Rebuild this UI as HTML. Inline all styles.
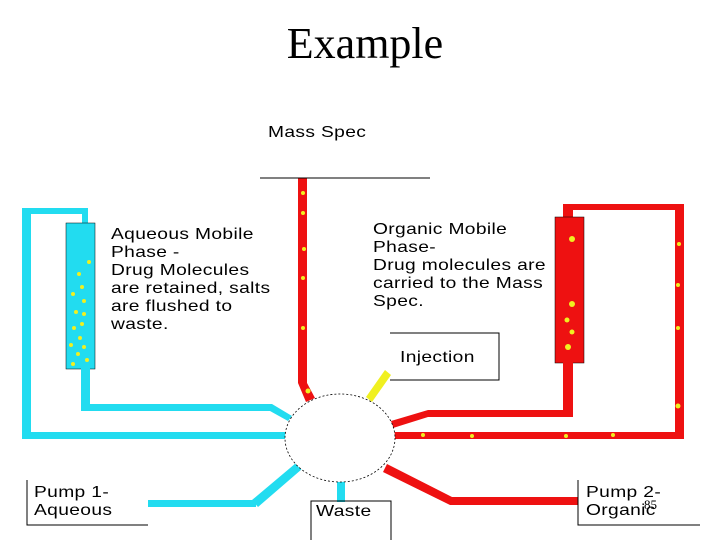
<!DOCTYPE html>
<html><head><style>
body{margin:0;width:720px;height:540px;background:#fff;overflow:hidden;position:relative;font-family:"Liberation Sans",sans-serif}
.t{position:absolute;font-size:16px;line-height:18px;color:#000;white-space:nowrap;transform:scaleX(1.2);transform-origin:0 0;letter-spacing:0.3px}
</style></head><body>
<div style="position:absolute;left:0;width:730px;top:18px;text-align:center;font-family:'Liberation Serif',serif;font-size:44px">Example</div>
<svg width="720" height="540" style="position:absolute;left:0;top:0">
<g fill="#22dcf0">
<rect x="22" y="208" width="66" height="6"/><rect x="22" y="208" width="9" height="230"/><rect x="82" y="208" width="6" height="16"/>
<rect x="22" y="432" width="265" height="7"/>
<rect x="66" y="223" width="29" height="146" stroke="#000" stroke-width="0.5"/>
<rect x="81" y="368" width="9" height="43"/><rect x="81" y="404" width="191" height="7"/>
<polygon points="272,404 292,416 288,421 270,411"/>
<rect x="148" y="500" width="108" height="7"/><polygon points="252,500 296,463 302,469 258,507"/>
<rect x="337" y="480" width="8" height="22"/>
</g>
<g fill="#ee1111">
<rect x="298" y="178" width="9" height="205"/><polygon points="298,383 307,383 315,398 306,402"/>
<rect x="563" y="204" width="121" height="6"/><rect x="675" y="204" width="9" height="235"/>
<rect x="563" y="204" width="10" height="14"/>
<rect x="555" y="217" width="29" height="146" stroke="#000" stroke-width="0.5"/>
<rect x="563" y="362" width="10" height="55"/><rect x="428" y="410" width="145" height="7"/>
<polygon points="428,410 428,417 393,428 391,421"/>
<rect x="393" y="432" width="291" height="7"/>
<polygon points="387,464 452,497 450,505 383,472"/><rect x="450" y="497" width="128" height="8"/>
</g>
<polygon points="385,370 391,375 372,402 366,397" fill="#f0f020"/>
<g fill="#f0f020">
<circle cx="89" cy="262" r="2"/><circle cx="79" cy="274" r="2"/><circle cx="82" cy="287" r="2"/><circle cx="73" cy="294" r="2"/><circle cx="84" cy="301" r="2"/><circle cx="76" cy="312" r="2"/><circle cx="84" cy="314" r="2"/><circle cx="74" cy="328" r="2"/><circle cx="82" cy="324" r="2"/><circle cx="80" cy="338" r="2"/><circle cx="71" cy="345" r="2"/><circle cx="84" cy="347" r="2"/><circle cx="78" cy="354" r="2"/><circle cx="87" cy="360" r="2"/><circle cx="73" cy="364" r="2"/>
<circle cx="303" cy="193" r="2"/><circle cx="303" cy="213" r="2"/><circle cx="304" cy="249" r="2"/><circle cx="303" cy="278" r="2"/><circle cx="303" cy="328" r="2"/><circle cx="308" cy="391" r="2.5"/>
<circle cx="572" cy="239" r="3"/><circle cx="572" cy="304" r="3"/><circle cx="567" cy="320" r="2.5"/><circle cx="572" cy="332" r="2.5"/><circle cx="568" cy="347" r="3"/>
<circle cx="679" cy="244" r="2"/><circle cx="678" cy="285" r="2"/><circle cx="678" cy="328" r="2"/><circle cx="678" cy="406" r="2.5"/>
<circle cx="423" cy="435" r="2"/><circle cx="472" cy="436" r="2"/><circle cx="566" cy="436" r="2"/><circle cx="613" cy="435" r="2"/>
</g>
<ellipse cx="340" cy="438" rx="55" ry="44" fill="#fff" stroke="#000" stroke-width="0.8" stroke-dasharray="2,2"/>
<g stroke="#000" stroke-width="1" fill="none">
<line x1="260" y1="178" x2="430" y2="178"/>
<polyline points="390,333 499,333 499,380 390,380"/>
<polyline points="27,480 27,525 148,525"/>
<polyline points="311,540 311,501 391,501 391,540"/>
<polyline points="578,480 578,525 700,525"/>
</g>
</svg>
<div class="t" style="left:268px;top:124px">Mass Spec</div>
<div class="t" style="left:111px;top:226px">Aqueous Mobile<br>Phase -<br>Drug Molecules<br>are retained, salts<br>are flushed to<br>waste.</div>
<div class="t" style="left:373px;top:221px">Organic Mobile<br>Phase-<br>Drug molecules are<br>carried to the Mass<br>Spec.</div>
<div class="t" style="left:400px;top:349px">Injection</div>
<div class="t" style="left:34px;top:484px">Pump 1-<br>Aqueous</div>
<div class="t" style="left:316px;top:503px">Waste</div>
<div class="t" style="left:586px;top:484px">Pump 2-<br>Organic</div>
<div style="position:absolute;left:644px;top:497px;font-family:'Liberation Serif',serif;font-size:13px">85</div>
</body></html>
